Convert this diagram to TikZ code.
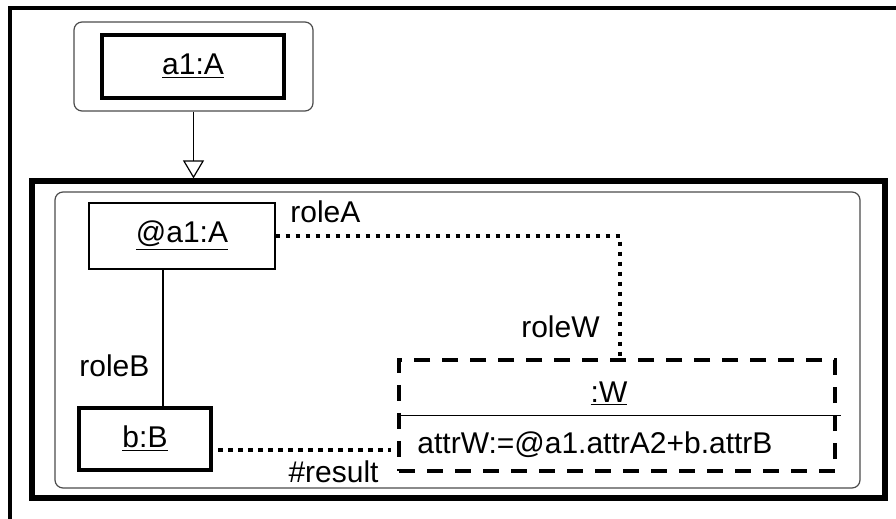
\documentclass[tikz,border=0pt]{standalone}
\usepackage{fontspec}
\setmainfont{Liberation Sans}
\usetikzlibrary{arrows.meta,calc}
\begin{document}
\begin{tikzpicture}[
  x=0.5pt, y=-0.5pt,
  every node/.style = {font=\fontsize{15}{18}\selectfont},
  obj/.style = {shape=rectangle, draw, line width=0.6pt, align=center},
  bound/.style = {obj, line width=2.4pt},
  roundbox/.style = {shape=rectangle, draw=black!70, line width=0.6pt, rounded corners=4pt},
  newobj/.style = {shape=rectangle, draw, line width=2.2pt, dash pattern=on 8pt off 6pt},
  linkdots/.style = {line width=2.2pt, dash pattern=on 2.2pt off 2.8pt},
  role/.style = {inner sep=0pt}
]
  \useasboundingbox (0,0) rectangle (896,519);
  \draw[line width=2.4pt] (10,519) -- (10,8) -- (896,8);

  % bound object on top
  \node[roundbox, minimum width=119.5pt, minimum height=44.5pt] (a1frame) at (193.5,66.5) {};
  \node[bound, minimum width=91pt, minimum height=31.5pt] (a1) at (193,66.5) {\underline{a1:A}};

  % pattern
  \node[draw, line width=2.6pt, minimum width=426.5pt, minimum height=158.5pt] (pkg) at (458.5,339.5) {};
  \node[roundbox, minimum width=402.5pt, minimum height=148pt] (inner) at (457.5,340) {};
  \draw[line width=0.6pt, -{Triangle[open, width=10.5pt, length=9pt]}]
    (a1frame.south) -- (pkg.north -| a1frame.south);

  \node[obj, minimum width=93pt, minimum height=33pt] (ata1) at (182,236) {\underline{@a1:A}};
  \node[bound, minimum width=66pt, minimum height=31pt] (b) at (145,439) {\underline{b:B}};
  \node[newobj, minimum width=218pt, minimum height=55.5pt] (w) at (617,415.5) {};
  \draw[line width=0.6pt] (w.west) -- ([xshift=2pt]w.east);
  \node[role, anchor=base] (wname) at (609,402) {\underline{:W}};
  \node[role, anchor=base west] (wattr) at (417,453) {attrW:=@a1.attrA2+b.attrB};

  % links
  \draw[linkdots] (ata1.east) -| ([xshift=1.5pt]w.north);
  \draw[line width=0.6pt] ([xshift=-9.5pt]ata1.south) -- ([xshift=9pt]b.north);
  \draw[linkdots] ($(b.east)+(2.5pt,-5.5pt)$) -- ($(b.east -| w.west)+(-3pt,-5.5pt)$);

  \node[role, anchor=base west] (roleA) at (290,223) {roleA};
  \node[role, anchor=base east] (roleW) at (600,338) {roleW};
  \node[role, anchor=base west] (roleB) at (79,377) {roleB};
  \node[role, anchor=base east] (result) at (379,482) {\#result};
\end{tikzpicture}
\end{document}
